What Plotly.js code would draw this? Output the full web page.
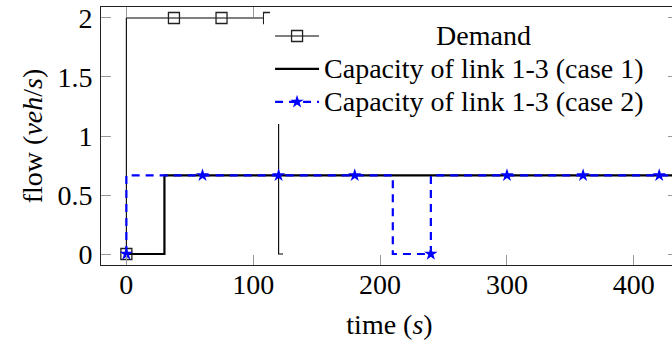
<!DOCTYPE html>
<html>
<head>
<meta charset="utf-8">
<script src="https://cdn.plot.ly/plotly-3.0.1.min.js"></script>
<style>
  html, body { margin: 0; padding: 0; background: #fff; overflow: hidden; }
  #chart { width: 680px; height: 345px; }
</style>
</head>
<body>
<div id="chart"></div>
<script>
// Demand: 2 veh/s for the first two minutes, then nothing.
const demandT = [0, 37.5, 75, 112.5, 120, 123.5];
const demandQ = [0, 2, 2, 2, 2, 0];

// Capacity of link 1-3, sampled every 30 s.
const capT = [0, 30, 60, 90, 120, 150, 180, 210, 240, 270, 300, 330, 360, 390, 420, 450];
const cap1Q = [0, 0, 0.667, 0.667, 0.667, 0.667, 0.667, 0.667, 0.667, 0.667, 0.667, 0.667, 0.667, 0.667, 0.667, 0.667];
const cap2Q = [0, 0.667, 0.667, 0.667, 0.667, 0.667, 0.667, 0.667, 0, 0.667, 0.667, 0.667, 0.667, 0.667, 0.667, 0.667];

const xTicks = [0, 100, 200, 300, 400];
const yTicks = [0, 0.5, 1, 1.5, 2];
const yTickText = ['0', '0.5', '1', '1.5', '2'];

const names = ['Demand', 'Capacity of link 1-3 (case 1)', 'Capacity of link 1-3 (case 2)'];

const FONT = 'Liberation Serif, Times New Roman, serif';
const HIDDEN = 'rgba(0,0,0,0)';

// legend rows are spaced for a smaller font while the labels render at 28px
const legendLabel = s => '<span style="font-size:28px">' + s + '</span>';

// marks on every data point except the trailing one
const demandMarkColor = demandT.map((t, i) => i < demandT.length - 1 ? '#222' : HIDDEN);
// stars on every other sample (each minute)
const cap2MarkColor = capT.map((t, i) => i % 2 === 0 ? '#0000ff' : HIDDEN);

const traces = [
  {
    x: demandT, y: demandQ, name: legendLabel('\u00a0'.repeat(16) + names[0]),
    type: 'scatter', mode: 'lines+markers',
    line: { shape: 'vh', color: '#000', width: 1.1 },
    marker: { symbol: 'square-open', size: 11, color: demandMarkColor, line: { width: 1.3 } }
  },
  {
    x: capT, y: cap1Q, name: legendLabel(names[1]),
    type: 'scatter', mode: 'lines',
    line: { shape: 'vh', color: '#000', width: 2.2 }
  },
  {
    x: capT, y: cap2Q, name: legendLabel(names[2]),
    type: 'scatter', mode: 'lines+markers',
    line: { shape: 'vh', color: '#0000ff', width: 2.2, dash: '8px,6px' },
    marker: { symbol: 'star', size: 10, color: cap2MarkColor, line: { width: 0 } }
  }
];

const axisCommon = {
  showgrid: false, zeroline: false,
  showline: true, linecolor: '#222', linewidth: 1, mirror: 'allticks',
  ticks: 'inside', ticklen: 10, tickwidth: 1, tickcolor: '#999',
  tickfont: { family: FONT, size: 28, color: '#000' }
};

const layout = {
  width: 680, height: 345,
  margin: { l: 101, r: 2, t: 7, b: 80 },
  paper_bgcolor: '#fff', plot_bgcolor: '#fff',
  font: { family: FONT, size: 28, color: '#000' },
  showlegend: true,
  legend: {
    x: 0.293, xanchor: 'left', y: 1.001, yanchor: 'top',
    bgcolor: '#fff', borderwidth: 0, itemwidth: 44,
    font: { family: FONT, size: 23, color: '#000' },
    // a tiny blank title adds white space above the first entry
    title: { text: '\u00a0', font: { family: FONT, size: 6 } },
    tracegroupgap: 0
  },
  // white strip continuing the legend panel a little to the left
  shapes: [{
    type: 'rect', xref: 'paper', yref: 'paper', layer: 'above',
    x0: 0.2825, x1: 0.30, y0: 0.531, y1: 0.973,
    fillcolor: '#fff', line: { width: 0 }
  }],
  xaxis: Object.assign({}, axisCommon, {
    range: [-20, 434.8], tickvals: xTicks, ticktext: xTicks.map(String),
    ticklabelstandoff: -6,
    title: { text: 'time (<i>s</i>)', font: { family: FONT, size: 28 }, standoff: 15 }
  }),
  yaxis: Object.assign({}, axisCommon, {
    range: [-0.093, 2.093], tickvals: yTicks, ticktext: yTickText,
    ticklabelstandoff: 2,
    title: { text: 'flow (<i>veh</i>/<i>s</i>)', font: { family: FONT, size: 28 }, standoff: 6 }
  })
};

Plotly.newPlot('chart', traces, layout, { displayModeBar: false, staticPlot: true });
</script>
</body>
</html>
